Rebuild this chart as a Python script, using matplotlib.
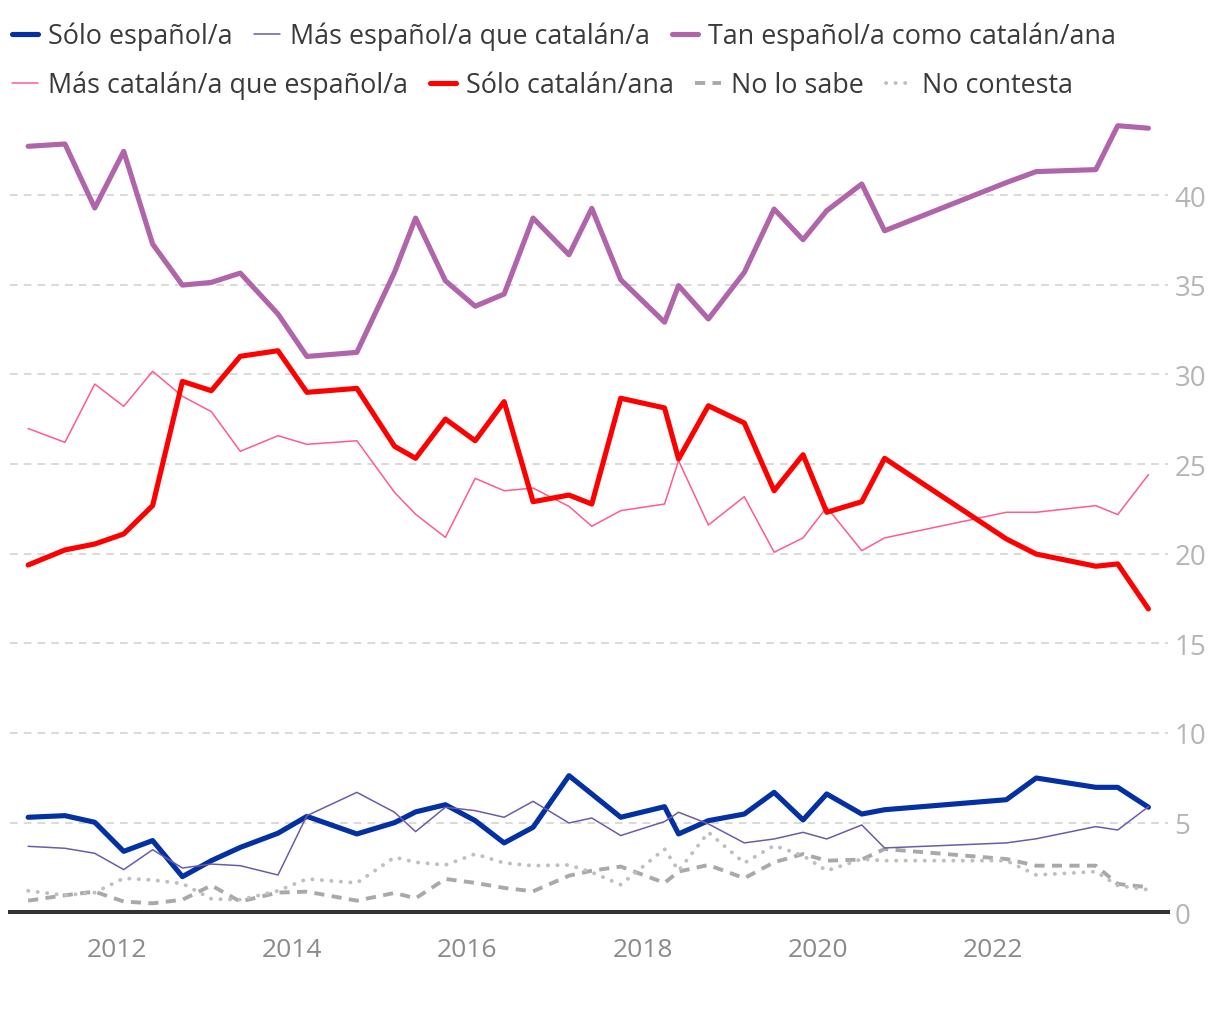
import matplotlib
matplotlib.use("Agg")
import matplotlib.pyplot as plt

plt.rcParams['font.family'] = ['Open Sans', 'DejaVu Sans']

# survey dates (decimal years)
dates = [2010.99, 2011.41, 2011.75, 2012.08, 2012.41, 2012.75, 2013.08, 2013.41, 2013.84, 2014.17,
         2014.74, 2015.17, 2015.41, 2015.75, 2016.09, 2016.42, 2016.75, 2017.16, 2017.42, 2017.75,
         2018.25, 2018.41, 2018.75, 2019.16, 2019.50, 2019.83, 2020.10, 2020.50, 2020.76, 2022.15,
         2022.49, 2023.17, 2023.42, 2023.77]

solo_espanol = [5.30, 5.39, 5.02, 3.40, 4.00, 1.99, 2.88, 3.62, 4.41, 5.35,
                4.37, 5.00, 5.60, 6.00, 5.11, 3.87, 4.74, 7.62, 6.60, 5.30,
                5.89, 4.37, 5.11, 5.48, 6.69, 5.15, 6.60, 5.48, 5.72, 6.28,
                7.49, 6.97, 6.97, 5.86]
mas_espanol = [3.68, 3.57, 3.29, 2.38, 3.49, 2.47, 2.69, 2.60, 2.08, 5.39,
               6.69, 5.58, 4.50, 5.86, 5.67, 5.30, 6.19, 4.98, 5.26, 4.28,
               5.06, 5.58, 4.93, 3.87, 4.09, 4.46, 4.09, 4.87, 3.59, 3.87,
               4.10, 4.78, 4.59, 5.89]
tan = [42.72, 42.85, 39.28, 42.44, 37.27, 34.98, 35.13, 35.65, 33.37, 31.00,
       31.23, 35.70, 38.72, 35.22, 33.80, 34.48, 38.72, 36.67, 39.26, 35.28,
       32.91, 34.95, 33.09, 35.69, 39.22, 37.51, 39.13, 40.62, 38.01, 40.70,
       41.31, 41.42, 43.87, 43.73]
mas_catalan = [26.98, 26.21, 29.46, 28.22, 30.17, 28.78, 27.92, 25.71, 26.58, 26.10,
               26.30, 23.42, 22.20, 20.91, 24.20, 23.51, 23.66, 22.64, 21.53, 22.40,
               22.77, 25.19, 21.60, 23.18, 20.08, 20.88, 22.59, 20.17, 20.88, 22.31,
               22.31, 22.68, 22.18, 24.41]
solo_catalan = [19.37, 20.21, 20.54, 21.10, 22.68, 29.61, 29.09, 31.01, 31.32, 29.00,
                29.22, 25.99, 25.32, 27.51, 26.30, 28.48, 22.90, 23.27, 22.77, 28.67,
                28.13, 25.28, 28.25, 27.29, 23.51, 25.52, 22.31, 22.90, 25.32, 20.82,
                19.98, 19.30, 19.43, 16.92]
no_sabe = [0.65, 0.95, 1.15, 0.60, 0.50, 0.70, 1.50, 0.60, 1.10, 1.15,
           0.65, 1.08, 0.78, 1.86, 1.64, 1.36, 1.17, 2.04, 2.32, 2.55,
           1.64, 2.27, 2.64, 1.90, 2.79, 3.25, 2.88, 2.94, 3.53, 2.97,
           2.60, 2.60, 1.58, 1.40]
no_contesta = [1.20, 0.95, 1.10, 1.90, 1.80, 1.60, 0.75, 0.70, 1.20, 1.86,
               1.64, 3.07, 2.79, 2.64, 3.25, 2.75, 2.60, 2.64, 2.23, 1.54,
               3.53, 2.32, 4.46, 2.75, 3.72, 3.16, 2.32, 2.97, 2.88, 2.88,
               2.08, 2.27, 1.49, 1.26]

labels = ["Sólo español/a", "Más español/a que catalán/a", "Tan español/a como catalán/ana",
          "Más catalán/a que español/a", "Sólo catalán/ana", "No lo sabe", "No contesta"]
xtick_vals = [2012, 2014, 2016, 2018, 2020, 2022]
ytick_vals = [0, 5, 10, 15, 20, 25, 30, 35, 40]

fig = plt.figure(figsize=(12.2, 10.2), dpi=100)
ax = fig.add_axes([10 / 1220, 1 - 913.3 / 1020, (1167.7 - 10) / 1220, (913.3 - 115.4) / 1020])
ax.set_xlim(2010.783, 2023.99)
ax.set_ylim(0, 44.5)

for y in ytick_vals[1:]:
    ax.axhline(y, color='#cfcfcf', lw=1.1, dashes=(5, 4), zorder=1)

kw = dict(solid_joinstyle='round', solid_capstyle='round', zorder=3)
h1, = ax.plot(dates, solo_espanol, color='#0331a3', lw=3.7, **kw)
h2, = ax.plot(dates, mas_espanol, color='#6e5ba8', lw=1.1, **kw)
h3, = ax.plot(dates, tan, color='#b064a9', lw=3.7, **kw)
h4, = ax.plot(dates, mas_catalan, color='#ff5b8b', lw=1.1, **kw)
h5, = ax.plot(dates, solo_catalan, color='#ff0000', lw=3.7, **kw)
h6, = ax.plot(dates, no_sabe, color='#a9a9ac', lw=2.8, dashes=(2.6, 1.9), dash_capstyle='butt', zorder=2)
h7, = ax.plot(dates, no_contesta, color='#bfbfc3', lw=2.8, dashes=(0.05, 2.4), dash_capstyle='round', zorder=2)

ax.axhline(0, color='#333333', lw=2.9, zorder=4, clip_on=False)

for s in ax.spines.values():
    s.set_visible(False)
ax.set_xticks(xtick_vals)
ax.set_xticklabels([str(v) for v in xtick_vals])
ax.set_yticks(ytick_vals)
ax.set_yticklabels([str(v) for v in ytick_vals])
ax.yaxis.tick_right()
ax.tick_params(axis='y', length=0, pad=5, labelsize=20, labelcolor='#b5b5b5')
ax.tick_params(axis='x', length=0, pad=18, labelsize=19, labelcolor='#8a8a8a')

leg_kw = dict(loc='center left', frameon=False, borderpad=0, borderaxespad=0,
              handlelength=0.97, handletextpad=0.37, columnspacing=0.8,
              fontsize=19.4, labelcolor='#3a3a3a')
leg1 = fig.legend([h1, h2, h3], labels[:3], ncol=3, bbox_to_anchor=(12 / 1220, 1 - 37 / 1020), **leg_kw)
leg2 = fig.legend([h4, h5, h6, h7], labels[3:], ncol=4, bbox_to_anchor=(12 / 1220, 1 - 86 / 1020), **leg_kw)

fig.savefig("out.png", dpi=100)
